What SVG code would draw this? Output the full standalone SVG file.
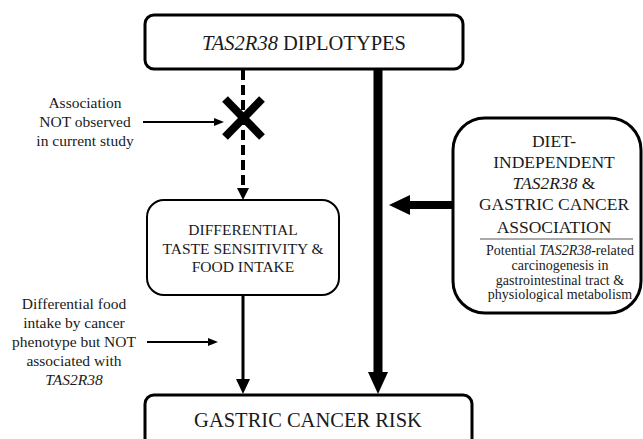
<svg xmlns="http://www.w3.org/2000/svg" width="643" height="439" viewBox="0 0 643 439" font-family="'Liberation Serif', 'Times New Roman', 'DejaVu Serif', serif">
<style>
text{font-family:'Liberation Serif','Times New Roman','DejaVu Serif',serif;fill:#1a1a1a;text-anchor:middle}
.box{fill:#fff;stroke:#000}
.t20{font-size:20.5px}
.t17{font-size:17.5px}
.t15{font-size:15.5px}
.t14{font-size:14px}
.it{font-style:italic}
</style>
<rect width="643" height="439" fill="#fff"/>
<g id="connectors">
<line x1="243" y1="70" x2="243" y2="190" stroke="#000" stroke-width="4" stroke-dasharray="10,5"/>
<path d="M237,188L249,188L243,200z" fill="#000"/>
<line x1="225" y1="99" x2="262" y2="137" stroke="#000" stroke-width="8"/>
<line x1="262" y1="99" x2="225" y2="137" stroke="#000" stroke-width="8"/>
<line x1="143" y1="122" x2="216" y2="122" stroke="#000" stroke-width="2"/>
<path d="M214,118L224,122L214,126z" fill="#000"/>
<line x1="243" y1="295" x2="243" y2="381" stroke="#000" stroke-width="3"/>
<path d="M236,379L250,379L243,394z" fill="#000"/>
<line x1="147" y1="342" x2="210" y2="342" stroke="#000" stroke-width="2"/>
<path d="M208,338L218,342L208,346z" fill="#000"/>
<line x1="378" y1="69" x2="378" y2="374" stroke="#000" stroke-width="9"/>
<path d="M368,372L388,372L378,394z" fill="#000"/>
<line x1="454" y1="205" x2="408" y2="205" stroke="#000" stroke-width="8"/>
<path d="M410,195L410,215L389,205z" fill="#000"/>
</g>
<g id="diplotypes">
<rect class="box" x="145" y="15" width="318" height="54" rx="9" stroke-width="3"/>
<text class="t20" x="304" y="50"><tspan class="it">TAS2R38</tspan> DIPLOTYPES</text>
</g>
<g id="not-observed">
<text class="t15" x="85" y="108">Association</text>
<text class="t15" x="85" y="127">NOT observed</text>
<text class="t15" x="85" y="146">in current study</text>
</g>
<g id="taste">
<rect class="box" x="147" y="200" width="192" height="95" rx="17" stroke-width="2"/>
<text class="t15" x="243" y="235">DIFFERENTIAL</text>
<text class="t15" x="243" y="253.5">TASTE SENSITIVITY &amp;</text>
<text class="t15" x="243" y="272">FOOD INTAKE</text>
</g>
<g id="food-note">
<text class="t15" x="74" y="309">Differential food</text>
<text class="t15" x="74" y="328">intake by cancer</text>
<text class="t15" x="74" y="347">phenotype but NOT</text>
<text class="t15" x="74" y="366">associated with</text>
<text class="t15 it" x="74" y="385">TAS2R38</text>
</g>
<g id="diet-independent">
<rect class="box" x="453" y="118" width="188" height="195" rx="32" stroke-width="3"/>
<text class="t17" x="554" y="147">DIET-</text>
<text class="t17" x="554" y="168">INDEPENDENT</text>
<text class="t17" x="554" y="189"><tspan class="it">TAS2R38</tspan> &amp;</text>
<text class="t17" x="554" y="210">GASTRIC CANCER</text>
<text class="t17" x="554" y="233">ASSOCIATION</text>
<line x1="480" y1="239" x2="633" y2="239" stroke="#555" stroke-width="1"/>
<text class="t14" x="560" y="255">Potential <tspan class="it">TAS2R38</tspan>-related</text>
<text class="t14" x="560" y="270">carcinogenesis in</text>
<text class="t14" x="560" y="285">gastrointestinal tract &amp;</text>
<text class="t14" x="560" y="299">physiological metabolism</text>
</g>
<g id="risk">
<rect class="box" x="145" y="395" width="327" height="60" rx="9" stroke-width="3"/>
<text class="t20" x="308" y="427">GASTRIC CANCER RISK</text>
</g>
</svg>
